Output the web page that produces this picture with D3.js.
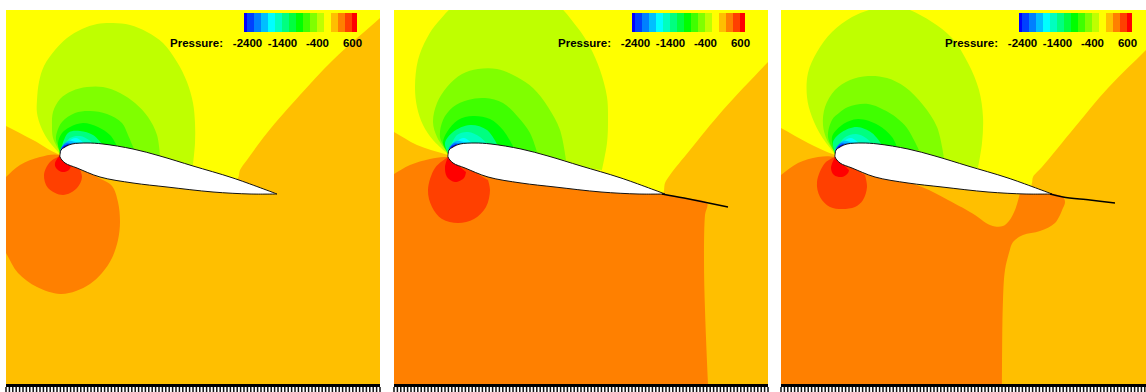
<!DOCTYPE html>
<html>
<head>
<meta charset="utf-8">
<script src="https://cdn.jsdelivr.net/npm/d3@7"></script>
<style>
  html, body { margin: 0; padding: 0; background: #fff; overflow: hidden; }
</style>
</head>
<body>
<svg id="chart" width="1146" height="392"></svg>
<script>
/* =================== DATA ================== */
// all contours are in field units, y pointing down
// some contours run on past the field edge, the clip cuts them off

const legendEdges = [-2500, -2400, -2200, -2000, -1800, -1600, -1400, -1200, -1000, -800, -600, -400, -200, 0, 200, 400, 600, 750];
const legendColors = ["#0000ff", "#0040ff", "#0080ff", "#00bfff", "#00ffff", "#00ffbf", "#00ff80", "#00ff40", "#00ff00",
                      "#40ff00", "#80ff00", "#bfff00", "#ffff00", "#ffbf00", "#ff8000", "#ff4000", "#ff0000"];
const legendTicks = [-2400, -1400, -400, 600];

const airfoilUpper = [[54,145],[55,140],[59,137],[66,134],[81,133],[97,134],[127,139],[154,146],[187,156],[227,168],[271,184]];
const airfoilLower = [[271,184],[244,184],[207,182],[161,177],[127,173],[94,167],[71,158],[59,153],[54,147],[54,145]];

const flapB = [[268,184],[290,188],[334,197]];
const flapC = [[269,184],[282,187],[309,190],[334,193]];

// lowest bands, painted first
const amberA = [[-20,106],[0,116],[27,130],[54,145],[100,158],[225,172],[232,168],[234,160],[241,150],[261,123],[294,85],[327,50],[374,8],[400,-15],[420,420],[-20,420]];
const amberB = [[-20,112],[0,122],[23,135],[54,145],[100,158],[262,180],[269,183],[271,173],[276,165],[296,140],[329,100],[374,52],[400,25],[420,420],[-20,420]];
const amberC = [[-20,108],[0,118],[27,133],[54,145],[100,158],[240,180],[248,180],[251,173],[252,167],[261,157],[294,117],[327,78],[365,40],[395,10],[420,420],[-20,420]];

const orangeA = [[-10,178],[0,167],[14,155],[34,147],[54,145],[91,167],[106,176],[112,192],[114,212],[112,230],[106,248],[96,263],[84,274],[70,281],[54,284],[31,277],[12,263],[0,243],[-10,225]];
const orangeB = [[-10,170],[0,164],[16,155],[36,149],[54,147],[160,170],[269,184],[290,188],[313,193],[311,205],[310,250],[311,300],[314,374],[316,420],[-10,420]];
const orangeC = [[-10,172],[0,165],[17,153],[37,147],[54,147],[100,165],[141,177],[167,190],[194,205],[205,213],[214,216.5],[222,216],[228,211],[234,200],[239,183],[240,178],[269,183],
                 [282,187],[284,192],[282,198],[274,213],[259,221],[242,225],[232,232],[228,243],[224,260],[222,290],[221,374],[221,420],[-10,420]];

const redOrangeA = [[54,146],[44,152],[38,165],[42,178],[57,185],[71,178],[76,167],[72,155]];
const redOrangeB = [[54,147],[41,158],[34,180],[38,197],[48,209],[64,213],[80,209],[92,197],[96,180],[94,170]];
const redOrangeC = [[54,147],[44,153],[36,172],[39,187],[49,197],[61,199],[74,197],[82,190],[86,177],[84,165]];

const redA = [[54,145],[49,153],[50,158],[56,162],[63,160],[65,156]];
const redB = [[54,147],[51,157],[53,167],[61,172],[70,168],[72,162]];
const redC = [[54,147],[50,158],[53,165],[61,167],[67,163],[68,160]];

// suction side bands, outermost first
const suctionA = [
  [[54,144],[42,130],[35,117],[31,103],[31,90],[33,72],[38,56],[49,40],[61,28],[76,19],[91,14],[107,13],[124,15],[141,22],[157,33],[171,52],[181,72],[187,93],[189,113],[189,133],[187,155]],
  [[54,142],[47,128],[46,115],[47,102],[54,89],[66,81],[81,77],[97,77],[114,83],[129,93],[142,107],[151,125],[154,146]],
  [[54,140],[50,130],[51,122],[56,112],[69,103],[84,101],[101,104],[116,113],[122,125],[128,139]],
  [[54,143],[52,133],[56,123],[64,117],[77,113],[92,117],[104,125],[111,136]],
  [[54,143],[62,123],[74,121],[87,125],[97,135]],
  [[54,143],[64,128],[74,126],[83,130],[90,137]]
];
const suctionB = [
  [[54,144],[39,130],[29,115],[23,97],[21,77],[24,50],[33,28],[44,12],[70,-10],[155,-10],[183,17],[196,37],[206,60],[213,87],[214,110],[213,133],[208,160]],
  [[53,142],[43,127],[39,112],[43,93],[53,77],[68,64],[84,59],[103,59],[123,67],[139,78],[154,97],[166,120],[172,150]],
  [[51,138],[46,127],[49,110],[59,97],[74,90],[91,88],[109,93],[124,107],[136,123],[143,142]],
  [[54,143],[49,133],[53,122],[64,110],[79,106],[96,109],[109,120],[120,138]],
  [[54,143],[51,133],[59,122],[76,115],[93,120],[104,136]],
  [[54,143],[63,125],[74,122],[86,127],[94,135]]
];
const suctionC = [
  [[54,144],[41,127],[31,107],[26,87],[27,63],[36,42],[51,22],[71,7],[91,-1],[110,-6],[129,0],[151,12],[171,28],[187,53],[198,80],[202,107],[201,133],[197,158]],
  [[54,142],[46,130],[42,115],[44,97],[54,80],[69,70],[87,66],[106,68],[124,77],[142,95],[156,117],[163,148]],
  [[54,143],[47,127],[51,110],[58,103],[67,97],[87,94],[107,102],[117,109],[126,118],[138,140]],
  [[54,143],[51,127],[61,115],[77,109],[97,115],[111,127],[116,137]],
  [[54,143],[52,132],[61,122],[76,117],[91,123],[101,135]],
  [[54,143],[63,128],[75,124],[85,128],[93,136]]
];
const suctionColors = ["#bfff00", "#80ff00", "#40ff00", "#00ff00", "#00ff80", "#00ffbf"];

// thin crescents round the nose, nearly the same in all three runs
const noseBands = [
  [[54,143],[56,140],[63,131],[70,128],[79,134]],
  [[54,144],[56,137],[62,131],[72,133]],
  [[54,145],[55,138],[60,133],[67,134]],
  [[54,146],[55,140],[58,136],[63,134]]
];
const noseColors = ["#00ffff", "#00bfff", "#0080ff", "#0000ff"];

const panelLefts = [6, 394, 781];
const panels = [
  { amber: amberA, orange: orangeA, redOrange: redOrangeA, red: redA, suction: suctionA, flap: null },
  { amber: amberB, orange: orangeB, redOrange: redOrangeB, red: redB, suction: suctionB, flap: flapB },
  { amber: amberC, orange: orangeC, redOrange: redOrangeC, red: redC, suction: suctionC, flap: flapC }
];

/* =================== DRAWING ================== */

const svg = d3.select("#chart");
const panelSize = 374;
const panelTop = 10;

const xField = d3.scaleLinear().domain([0, 374]).range([0, panelSize]);
const yField = d3.scaleLinear().domain([0, 374]).range([0, panelSize]);
const legendX = d3.scaleLinear().domain([-2400, 600]).range([241, 346]);

const smooth = d3.line().x(d => xField(d[0])).y(d => yField(d[1])).curve(d3.curveCatmullRom);

function translate(x, y) {
    return "translate(" + x + "," + y + ")";
}

function drawBand(g, points, color) {
    g.append("path")
     .attr("d", smooth(points) + "Z")
     .attr("fill", color);
}

function drawLegend(g) {
    g.selectAll("rect.cell")
     .data(legendColors)
     .join("rect")
     .attr("class", "cell")
     .attr("x", (d, i) => legendX(legendEdges[i]))
     .attr("y", 3)
     .attr("width", (d, i) => legendX(legendEdges[i + 1]) - legendX(legendEdges[i]))
     .attr("height", 19)
     .attr("fill", d => d)
     .attr("shape-rendering", "crispEdges");

    let axisG = g.append("g")
                 .attr("transform", translate(0, 25.5))
                 .call(d3.axisBottom(legendX).tickValues(legendTicks).tickSize(0).tickFormat(d => String(d)));
    axisG.select(".domain").remove();
    axisG.selectAll("text")
         .style("font-family", "'Liberation Sans', Arial, sans-serif")
         .style("font-size", "11.5px")
         .style("font-weight", "bold")
         .attr("fill", "#000");

    g.append("text")
     .attr("x", 164)
     .attr("y", 37)
     .style("font-family", "'Liberation Sans', Arial, sans-serif")
     .style("font-size", "11.5px")
     .style("font-weight", "bold")
     .attr("fill", "#000")
     .text("Pressure:");
}

function drawPanel(panel, i) {
    let clipId = "clip" + i;
    svg.append("clipPath")
       .attr("id", clipId)
       .append("rect")
       .attr("width", panelSize)
       .attr("height", panelSize);

    let g = svg.append("g").attr("transform", translate(panelLefts[i], panelTop));
    let field = g.append("g").attr("clip-path", "url(#" + clipId + ")");

    field.append("rect")
         .attr("width", panelSize)
         .attr("height", panelSize)
         .attr("fill", "#ffff00");

    drawBand(field, panel.amber, "#ffbf00");
    drawBand(field, panel.orange, "#ff8000");
    drawBand(field, panel.redOrange, "#ff4000");
    drawBand(field, panel.red, "#ff0000");

    panel.suction.forEach((band, k) => drawBand(field, band, suctionColors[k]));
    noseBands.forEach((band, k) => drawBand(field, band, noseColors[k]));

    // upper and lower surface are separate curves so the trailing edge stays sharp
    field.append("path")
         .attr("d", smooth(airfoilUpper) + "L" + smooth(airfoilLower).slice(1) + "Z")
         .attr("fill", "#fff")
         .attr("stroke", "#111")
         .attr("stroke-width", 1);

    if (panel.flap) {
        field.append("path")
             .attr("d", smooth(panel.flap))
             .attr("fill", "none")
             .attr("stroke", "#000")
             .attr("stroke-width", 1.4);
    }

    drawLegend(g);

    // wall at the bottom of the domain: solid band, then the mesh ticks under it
    g.append("rect")
     .attr("y", panelSize)
     .attr("width", panelSize)
     .attr("height", 3)
     .attr("fill", "#000");

    let wallScale = d3.scaleLinear().domain([0, 110]).range([0, panelSize]);
    g.append("g")
     .attr("transform", translate(0, panelSize + 3))
     .selectAll("line")
     .data(d3.range(0, 111))
     .join("line")
     .attr("x1", d => wallScale(d))
     .attr("x2", d => wallScale(d))
     .attr("y1", 0)
     .attr("y2", 5)
     .attr("stroke", "#111")
     .attr("stroke-width", 1.5);
}

panels.forEach(drawPanel);
</script>
</body>
</html>
